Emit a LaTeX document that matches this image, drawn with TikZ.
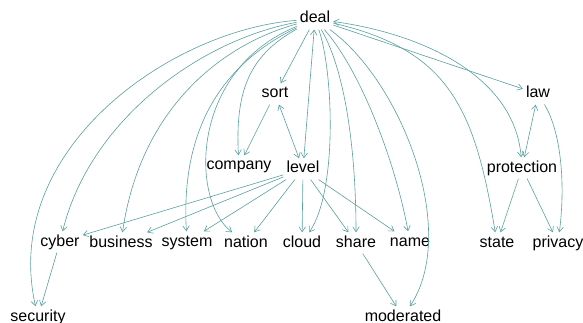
\documentclass[tikz,border=0pt]{standalone}
\usepackage{fontspec}
\setmainfont{Liberation Sans}
\usetikzlibrary{arrows.meta}
\definecolor{edgeteal}{RGB}{88,160,160}
\begin{document}
\begin{tikzpicture}[x=1pt,y=-1pt,
  word/.style={anchor=base,font=\fontsize{16}{19}\selectfont,
    text height=11.5pt,text depth=3.4pt,inner sep=3pt},
  link/.style={draw=edgeteal,line width=0.6pt,
    -{Straight Barb[length=5pt,width=6.5pt]}},
  both/.style={draw=edgeteal,line width=0.6pt,
    {Straight Barb[length=5pt,width=6.5pt]}-{Straight Barb[length=5pt,width=6.5pt]}}]
\useasboundingbox (0,0) rectangle (583,323);

% words
\node[word] (deal) at (315,23) {deal};
\node[word] (sort) at (275,98) {sort};
\node[word] (law) at (538,98) {law};
\node[word] (company) at (239,170) {company};
\node[word] (level) at (303,173) {level};
\node[word] (protection) at (522,172) {protection};
\node[word] (cyber) at (60,246) {cyber};
\node[word] (business) at (121,247) {business};
\node[word] (system) at (187,246) {system};
\node[word] (nation) at (246,247) {nation};
\node[word] (cloud) at (302,247) {cloud};
\node[word] (share) at (356,247) {share};
\node[word] (name) at (410,246) {name};
\node[word] (state) at (497,247) {state};
\node[word] (privacy) at (558,247) {privacy};
\node[word] (security) at (38,321) {security};
\node[word] (moderated) at (403,321) {moderated};

% curved links leaving deal
\path[link] (deal) .. controls (170,30) and (0,150) .. (security);
\path[link] (deal) .. controls (200,40) and (90,120) .. (cyber);
\path[link] (deal) .. controls (220,45) and (140,110) .. (business);
\path[link] (deal) .. controls (230,60) and (180,120) .. (system);
\path[link] (deal) .. controls (190,70) and (190,200) .. (nation);
\path[link] (deal) .. controls (250,55) and (235,90) .. (company);
\path[link] (deal) .. controls (333,70) and (338,190) .. (cloud);
\path[link] (deal) .. controls (345,70) and (356,150) .. (share);
\path[link] (deal) .. controls (360,70) and (395,160) .. (name);
\path[link] (deal) .. controls (400,80) and (460,230) .. (moderated);
\path[link] (deal) .. controls (450,50) and (475,110) .. (state);
\path[both] (deal) .. controls (430,35) and (515,80) .. (protection);
\path[link] (law) .. controls (560,130) and (566,180) .. (privacy);

% straight links
\path[link] (deal) -- (sort);
\path[both] (deal) -- (level);
\path[link] (deal) -- (law);
\path[link] (sort) -- (company);
\path[both] (sort) -- (level);
\path[both] (law) -- (protection);
\path[link] (level) -- (cyber);
\path[link] (level) -- (business);
\path[link] (level) -- (system);
\path[link] (level) -- (nation);
\path[link] (level) -- (cloud);
\path[link] (level) -- (share);
\path[link] (level) -- (name);
\path[link] (cyber) -- (security);
\path[link] (share) -- (moderated);
\path[link] (protection) -- (state);
\path[link] (protection) -- (privacy);
\end{tikzpicture}
\end{document}
